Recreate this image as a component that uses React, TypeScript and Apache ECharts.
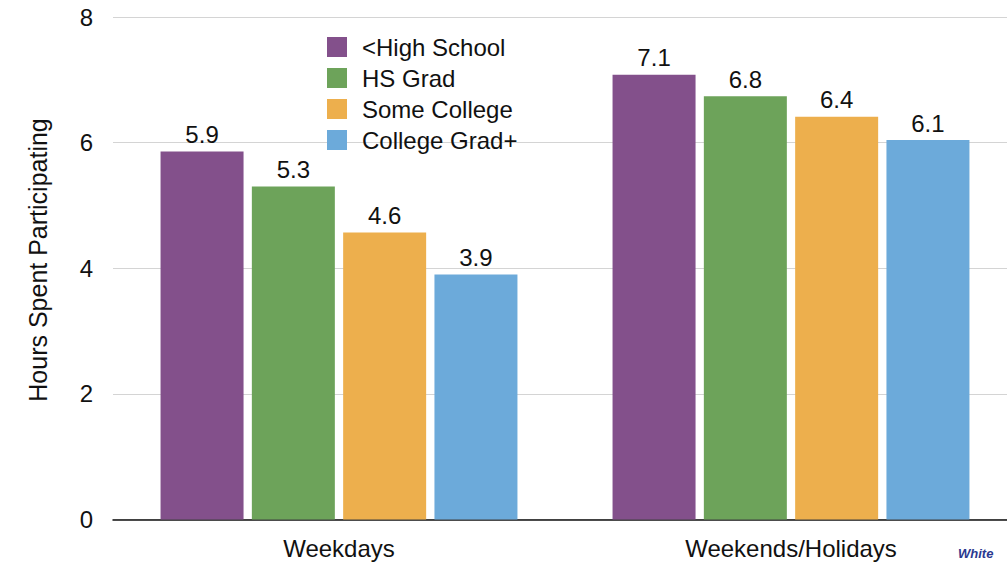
import React, { useEffect, useRef } from "react";
import * as echarts from "echarts";

const categories = ["Weekdays", "Weekends/Holidays"];
const seriesNames = ["<High School", "HS Grad", "Some College", "College Grad+"];
// bar heights
const highSchool = [5.86, 7.08];
const hsGrad = [5.3, 6.74];
const someCollege = [4.57, 6.41];
const collegeGrad = [3.9, 6.04];
// printed labels above bars
const highSchoolLabels = ["5.9", "7.1"];
const hsGradLabels = ["5.3", "6.8"];
const someCollegeLabels = ["4.6", "6.4"];
const collegeGradLabels = ["3.9", "6.1"];
const yTicks = [0, 2, 4, 6, 8];

const colors = ["#83508B", "#6DA35A", "#EDAF4D", "#6CAADA"];
const FONT = "'Liberation Sans', Arial, Helvetica, sans-serif";
const FS = 24;

export default function App() {
  const ref = useRef<HTMLDivElement>(null);
  useEffect(() => {
    if (!ref.current) return;
    const chart = echarts.init(ref.current, undefined, { renderer: "svg" });
    const values = [highSchool, hsGrad, someCollege, collegeGrad];
    const labels = [highSchoolLabels, hsGradLabels, someCollegeLabels, collegeGradLabels];
    chart.setOption({
      animation: false,
      textStyle: { fontFamily: FONT },
      color: colors,
      grid: { left: 113, right: 0, top: 17, bottom: 42.5, containLabel: false },
      legend: {
        orient: "vertical",
        left: 322,
        top: 30,
        itemWidth: 20,
        itemHeight: 20,
        itemGap: 7,
        icon: "rect",
        textStyle: { fontSize: FS, color: "#111", fontFamily: FONT, padding: [0, 0, 0, 10] },
        data: seriesNames,
      },
      xAxis: {
        type: "category",
        data: categories,
        axisTick: { show: false },
        axisLine: { lineStyle: { color: "#111", width: 1.5 } },
        axisLabel: { fontSize: FS, color: "#111", margin: 17, fontFamily: FONT },
      },
      yAxis: {
        type: "value",
        min: yTicks[0],
        max: yTicks[yTicks.length - 1],
        interval: 2,
        axisLine: { show: false },
        axisTick: { show: false },
        axisLabel: { fontSize: FS, color: "#111", margin: 20, fontFamily: FONT },
        splitLine: { lineStyle: { color: "#d4d4d4", width: 1 } },
      },
      series: seriesNames.map((name, i) => ({
        name,
        type: "bar",
        data: values[i],
        barWidth: 83,
        barGap: "10%",
        itemStyle: { color: colors[i] },
        label: {
          show: true,
          position: "top",
          distance: 5,
          fontSize: FS,
          color: "#111",
          fontFamily: FONT,
          formatter: (p: any) => labels[i][p.dataIndex],
        },
      })),
      graphic: [
        {
          type: "text",
          x: 38,
          y: 260,
          rotation: Math.PI / 2,
          style: {
            text: "Hours Spent Participating",
            fontSize: 25,
            fill: "#111",
            fontFamily: FONT,
            textAlign: "center",
            textVerticalAlign: "middle",
          },
        },
        {
          type: "text",
          x: 958,
          y: 547,
          style: {
            text: "White",
            fontSize: 13,
            fontWeight: "bold",
            fontStyle: "italic",
            fill: "#2B3990",
            fontFamily: FONT,
            textAlign: "left",
            textVerticalAlign: "top",
          },
        },
      ],
    });
    return () => chart.dispose();
  }, []);
  return (
    <div
      style={{
        position: "fixed",
        left: 0,
        top: 0,
        width: 1007,
        height: 562,
        overflow: "hidden",
        background: "#fff",
      }}
    >
      <div ref={ref} style={{ width: 1017, height: 562 }} />
    </div>
  );
}
